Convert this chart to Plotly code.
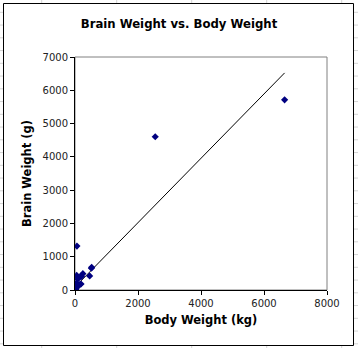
import numpy as np
import plotly.graph_objects as go

# Body weight (kg) and brain weight (g) for 62 mammal species
body_kg = [3.385, 0.48, 1.35, 465, 36.33, 27.66, 14.83, 1.04, 4.19, 0.425,
           0.101, 0.92, 1, 0.005, 0.06, 3.5, 2, 1.7, 2547, 0.023,
           187.1, 521, 0.785, 10, 3.3, 0.2, 1.41, 529, 207, 85,
           0.75, 62, 6654, 3.5, 6.8, 35, 4.05, 0.12, 0.023, 0.01,
           1.4, 250, 2.5, 55.5, 100, 52.16, 10.55, 0.55, 60, 3.6,
           4.288, 0.28, 0.075, 0.122, 0.048, 192, 3, 160, 0.9, 1.62,
           0.104, 4.235]
brain_g = [44.5, 15.5, 8.1, 423, 119.5, 115, 98.2, 5.5, 58, 6.4,
           4, 5.7, 6.6, 0.14, 1, 10.8, 12.3, 6.3, 4603, 0.3,
           419, 655, 3.5, 115, 25.6, 5, 17.5, 680, 406, 325,
           12.3, 1320, 5712, 3.9, 179, 56, 17, 1, 0.4, 0.25,
           12.5, 490, 12.1, 175, 157, 440, 179.5, 2.4, 81, 21,
           39.2, 1.9, 1.2, 3, 0.33, 180, 25, 169, 2.6, 11.4,
           2.5, 50.4]

x_ticks = [0, 2000, 4000, 6000, 8000]
y_ticks = [0, 1000, 2000, 3000, 4000, 5000, 6000, 7000]

# Linear trendline spanning the data's x range
slope, intercept = np.polyfit(body_kg, brain_g, 1)
trend_x = [min(body_kg), max(body_kg)]
trend_y = [intercept + slope * v for v in trend_x]

W, H = 358, 348
L, R, T, B = 75, 31, 57, 58
pw, ph = W - L - R, H - T - B


def px_x(p):
    return (p - L) / pw


def px_y(p):
    return (H - B - p) / ph


fig = go.Figure()
fig.add_trace(go.Scatter(x=trend_x, y=trend_y, mode="lines",
                         line=dict(color="black", width=1),
                         hoverinfo="skip", showlegend=False))
fig.add_trace(go.Scatter(x=body_kg, y=brain_g, mode="markers",
                         marker=dict(symbol="diamond", size=5.5, color="#000080",
                                     line=dict(width=0)),
                         showlegend=False))

shapes = []
# faint spreadsheet cell lines behind the chart
for gx in [41.7, 116.7, 191.7, 266.7, 341.7]:
    shapes.append(dict(type="line", xref="paper", yref="paper", layer="below",
                       x0=px_x(gx), x1=px_x(gx), y0=px_y(0), y1=px_y(H),
                       line=dict(color="#d4d4d4", width=1)))
gy = 12.3
while gy < H:
    shapes.append(dict(type="line", xref="paper", yref="paper", layer="below",
                       x0=px_x(0), x1=px_x(W), y0=px_y(gy), y1=px_y(gy),
                       line=dict(color="#d4d4d4", width=1)))
    gy += 12.75
# chart area with black border
shapes.append(dict(type="rect", xref="paper", yref="paper", layer="below",
                   x0=px_x(3.5), x1=px_x(353.5), y0=px_y(345.5), y1=px_y(3.5),
                   fillcolor="white", line=dict(color="black", width=1)))
# grey plot area border
shapes.append(dict(type="rect", xref="paper", yref="paper", layer="below",
                   x0=0, x1=1, y0=0, y1=1,
                   fillcolor="white", line=dict(color="#808080", width=1)))

fig.update_layout(
    width=W, height=H,
    margin=dict(l=L, r=R, t=T, b=B, pad=0),
    paper_bgcolor="white",
    plot_bgcolor="rgba(0,0,0,0)",
    font=dict(family="DejaVu Sans", color="black"),
    title=dict(text="<b>Brain Weight vs. Body Weight</b>",
               x=0.5, xanchor="center", xref="container",
               y=1 - 23.5 / H, yanchor="middle",
               font=dict(size=11.7, family="DejaVu Sans", color="black")),
    shapes=shapes,
    xaxis=dict(range=[0, 8000], tickvals=x_ticks,
               ticktext=[str(v) for v in x_ticks],
               showgrid=False, zeroline=False,
               showline=True, linecolor="black", linewidth=1,
               ticks="outside", ticklen=4, tickcolor="black",
               tickfont=dict(size=10, color="#222222"),
               title=dict(text="<b>Body Weight (kg)</b>",
                          font=dict(size=11.5), standoff=7)),
    yaxis=dict(range=[0, 7000], tickvals=y_ticks,
               ticktext=[str(v) for v in y_ticks],
               showgrid=False, zeroline=False,
               showline=True, linecolor="black", linewidth=1,
               ticks="outside", ticklen=4, tickcolor="black",
               tickfont=dict(size=10, color="#222222"),
               title=dict(text="<b>Brain Weight (g)</b>",
                          font=dict(size=11.5), standoff=8)),
)

fig.write_html("out.html")
